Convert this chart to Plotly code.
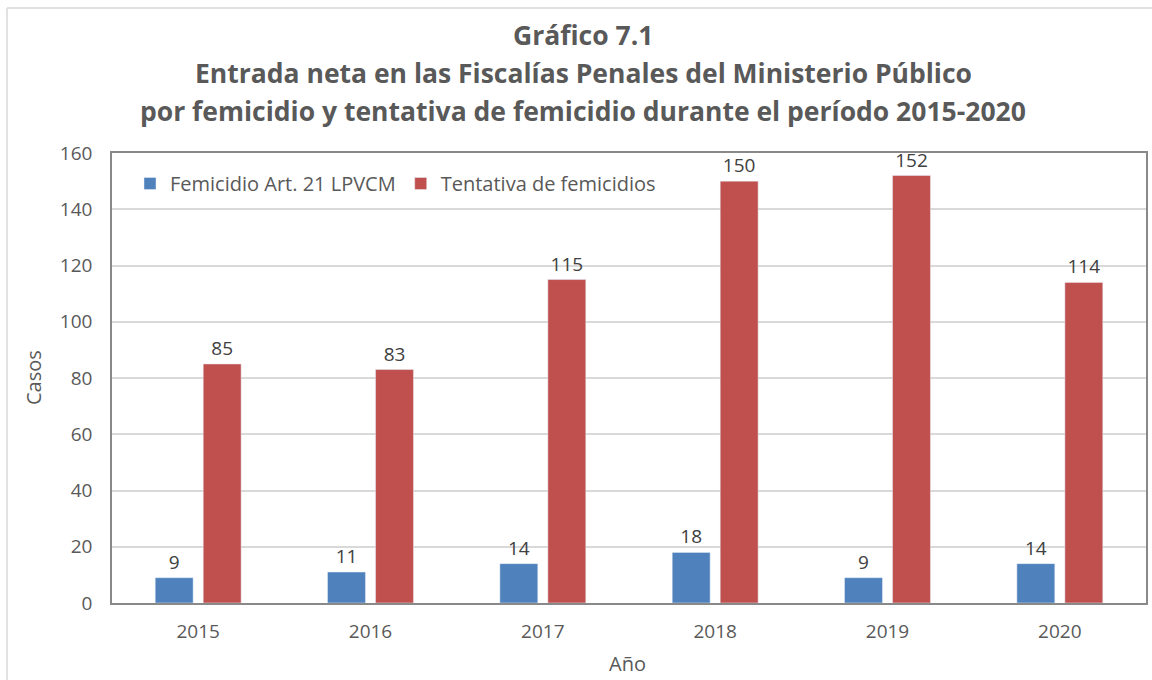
import plotly.graph_objects as go

years = ["2015", "2016", "2017", "2018", "2019", "2020"]
femicidio = [9, 11, 14, 18, 9, 14]
tentativa = [85, 83, 115, 150, 152, 114]
series_names = ["Femicidio Art. 21 LPVCM", "Tentativa de femicidios"]
y_ticks = [0, 20, 40, 60, 80, 100, 120, 140, 160]
title_lines = [
    "Gráfico 7.1",
    "Entrada neta en las Fiscalías Penales del Ministerio Público",
    "por femicidio y tentativa de femicidio durante el período 2015-2020",
]

FONT = "Open Sans"
TXT = "#595959"

fig = go.Figure()
fig.add_trace(go.Bar(x=years, y=femicidio, name=series_names[0], marker_color="#4F81BD",
                     text=femicidio, textposition="outside",
                     textfont=dict(size=19, color="#404040", family=FONT), cliponaxis=False))
fig.add_trace(go.Bar(x=years, y=tentativa, name=series_names[1], marker_color="#C0504D",
                     text=tentativa, textposition="outside",
                     textfont=dict(size=19, color="#404040", family=FONT), cliponaxis=False))

PW, PH = 1034, 450
def px_x(x):
    return (x - 112) / PW
def px_y(y):
    return (603 - y) / PH

annotations = []
for i, (line, yc) in enumerate(zip(title_lines, [35, 73, 111])):
    annotations.append(dict(text=f"<b>{line}</b>", xref="paper", yref="paper",
                            x=px_x(583), y=px_y(yc), xanchor="center", yanchor="middle",
                            showarrow=False, font=dict(family=FONT, size=26.5, color=TXT)))
annotations.append(dict(text="Casos", xref="paper", yref="paper", x=px_x(33), y=px_y(378),
                        textangle=-90, xanchor="center", yanchor="middle", showarrow=False,
                        font=dict(family=FONT, size=20, color=TXT)))
annotations.append(dict(text="Año", xref="paper", yref="paper", x=px_x(627), y=px_y(663),
                        xanchor="center", yanchor="middle", showarrow=False,
                        font=dict(family=FONT, size=20, color=TXT)))

fig.update_layout(
    width=1152, height=680,
    margin=dict(l=112, r=6, t=153, b=77, autoexpand=False),
    paper_bgcolor="white", plot_bgcolor="white",
    barmode="group", bargap=0.443, bargroupgap=0.21,
    font=dict(family=FONT, color=TXT, size=18),
    showlegend=True,
    legend=dict(orientation="h", x=px_x(130), y=px_y(164), xanchor="left", yanchor="top",
                bgcolor="rgba(0,0,0,0)", font=dict(size=20, color=TXT),
                itemwidth=30, traceorder="normal"),
    xaxis=dict(showline=True, linecolor="#898989", linewidth=1.5, mirror=True,
               tickfont=dict(size=19, color=TXT), ticks="", automargin=False,
               ticklabelstandoff=10),
    yaxis=dict(range=[0, 160], tickvals=y_ticks, showgrid=True, gridcolor="#D9D9D9",
               gridwidth=1.5, showline=True, linecolor="#898989", linewidth=1.5, mirror=True,
               tickfont=dict(size=19, color=TXT), zeroline=False, ticks="", automargin=False,
               ticklabelstandoff=14),
    annotations=annotations,
    shapes=[
        dict(type="line", xref="paper", yref="paper", x0=px_x(7), x1=px_x(7), y0=px_y(690), y1=px_y(8),
             line=dict(color="#D9D9D9", width=1.5)),
        dict(type="line", xref="paper", yref="paper", x0=px_x(7), x1=px_x(1160), y0=px_y(8), y1=px_y(8),
             line=dict(color="#D9D9D9", width=1.5)),
    ],
)

fig.write_html("out.html", config={"displayModeBar": False},
               post_script="document.body.style.margin='0';document.body.style.overflow='hidden';")
